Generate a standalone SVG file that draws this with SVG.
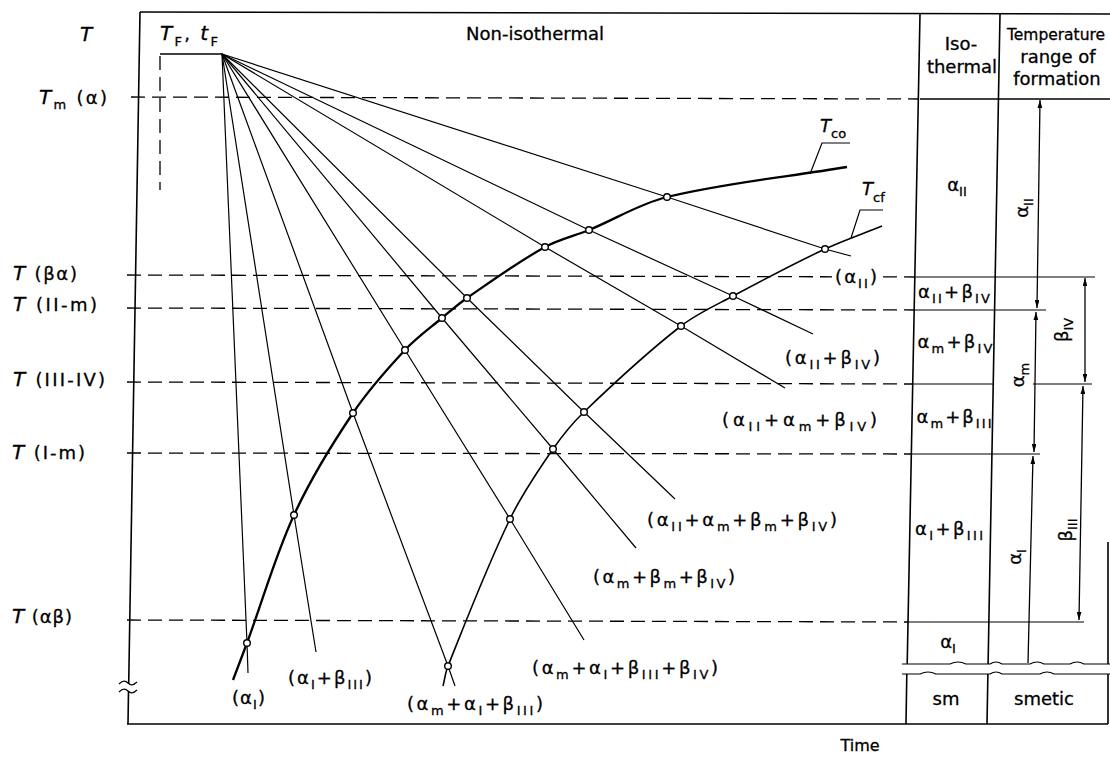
<svg xmlns="http://www.w3.org/2000/svg" width="1110" height="758" viewBox="0 0 1110 758">
<style>
.fr{stroke:#000;stroke-width:1.6;fill:none}
.ln{stroke:#000;stroke-width:1.2;fill:none}
.ds{stroke:#000;stroke-width:1.3;stroke-dasharray:14 7;fill:none}
.co{stroke:#000;stroke-width:2.3;fill:none}
.cf{stroke:#000;stroke-width:1.6;fill:none}
.pt{fill:#fff;stroke:#000;stroke-width:1.4}
.ar{stroke:#000;stroke-width:1.3;fill:none}
text{font-family:"DejaVu Sans","Liberation Sans",sans-serif;font-size:18px;fill:#000;stroke:#000;stroke-width:0.3}
.it{font-style:italic}
.s{font-size:13px}
.m{text-anchor:middle}
.big{font-size:20px}
.hd{font-size:15.5px}
.tm{font-size:16px}
</style>
<defs>
<marker id="ah" viewBox="0 0 10 6" refX="10" refY="3" markerWidth="8" markerHeight="4.8" orient="auto-start-reverse" markerUnits="userSpaceOnUse"><path d="M0,0L10,3L0,6z" fill="#000"/></marker>
</defs>
<rect width="1110" height="758" fill="#fff"/>

<g id="frame">
<path class="fr" d="M140,12 L1110,14"/>
<path class="fr" d="M140,12 L128.7,684"/>
<path class="fr" d="M128.5,691 L128,724"/>
<path class="fr" d="M127,724 L1108,724"/>
<path class="ln" d="M119,684 Q124,679 128,683 Q132,687 137,682"/>
<path class="ln" d="M119,692 Q124,687 128,691 Q132,695 137,690"/>
</g>

<g id="table">
<path class="fr" d="M920,14 L907.2,664 M906.8,674 L906,724"/>
<path class="fr" d="M1000,14 L988.1,664 M987.9,674 L987,724"/>
<path class="fr" d="M1108,542 L1108,664 M1108,674 L1108,724"/>
<path class="fr" d="M920,99 L1110,99"/>
<path class="ln" d="M915,277 L1095,277 M914,310 L1046,310 M913,384 L993,384 M1033,384 L1092,384 M911,454 L1040,454 M908,622 L1084,622"/>
<path class="ln" d="M902,664 L950,664 Q958,660 966,664 L990,664 Q996,660 1002,664 L1030,664 Q1037,660 1044,664 L1070,664 Q1077,660 1084,664 L1110,664"/>
<path class="ln" d="M902,674 L920,674 Q928,670 936,674 L990,674 Q996,670 1002,674 L1040,674 Q1047,670 1054,674 L1110,674"/>
<path class="ar" d="M1040,100 L1037,308" marker-start="url(#ah)" marker-end="url(#ah)"/>
<path class="ar" d="M1036,312 L1034,452" marker-start="url(#ah)" marker-end="url(#ah)"/>
<path class="ar" d="M1033,456 L1028,663" marker-start="url(#ah)"/>
<path class="ar" d="M1085,278 L1085,382" marker-start="url(#ah)" marker-end="url(#ah)"/>
<path class="ar" d="M1083,386 L1079,620" marker-start="url(#ah)" marker-end="url(#ah)"/>
</g>

<g id="levels">
<path class="ds" d="M131,97 L918,99"/>
<path class="ds" d="M127,275 L915,277"/>
<path class="ds" d="M127,308 L914,310"/>
<path class="ds" d="M127,382 L913,384"/>
<path class="ds" d="M127,453 L911,454"/>
<path class="ds" d="M127,620 L908,622"/>
<path class="ds" d="M160,56 L160,190"/>
</g>

<g id="connectors">
<path class="fr" d="M160,54 L222,54"/>
<path class="ln" d="M222,54 L247,643 L248,673"/>
<path class="ln" d="M222,54 L294,515 L316,652"/>
<path class="ln" d="M222,54 L353,413 L448,666 L455,686"/>
<path class="ln" d="M222,54 L405,350 L510,519 L584,640"/>
<path class="ln" d="M222,54 L442,318 L553,449 L636,548"/>
<path class="ln" d="M222,54 L467,298 L584,412 L675,499"/>
<path class="ln" d="M222,54 L545,247 L681,326 L785,388"/>
<path class="ln" d="M222,54 L589,230 L733,296 L813,334"/>
<path class="ln" d="M222,54 L667,197 L825,249 L851,256"/>
<path id="Tco" class="co" d="M233,680 C237.7,667.7 242.4,655.4 247,643 C262.8,600.3 275,556.3 294,515 C310.4,479.3 331.1,445.6 353,413 C368.2,390.4 386.4,369.9 405,350 C416.1,338.1 429.5,328.5 442,318 C450.2,311.1 458.2,304.1 467,298 C492.6,280.3 517.8,262.1 545,247 C558.7,239.4 574.5,236 589,230 C615.1,219.3 639.6,203.7 667,197 C726,182.6 787,177 847,167"/>
<path id="Tcf" class="cf" d="M443,686 C444.7,679.3 445.4,672.4 448,666 C467.8,616.6 486.8,566.9 510,519 C521.9,494.3 537.4,471.5 553,449 C562.2,435.8 572.4,423.2 584,412 C615.1,382.1 646.9,352.5 681,326 C696.8,313.7 715.4,305.4 733,296 C763.3,279.8 793.9,263.6 825,249 C843.6,240.3 863,233.7 882,226"/>
<path class="ln" d="M810,174 L822,143 L850,143"/>
<path class="ln" d="M851,238 L860,210 L883,210"/>
</g>

<g id="points">
<circle class="pt" cx="247" cy="643" r="3.3"/>
<circle class="pt" cx="294" cy="515" r="3.3"/>
<circle class="pt" cx="353" cy="413" r="3.3"/>
<circle class="pt" cx="405" cy="350" r="3.3"/>
<circle class="pt" cx="442" cy="318" r="3.3"/>
<circle class="pt" cx="467" cy="298" r="3.3"/>
<circle class="pt" cx="545" cy="247" r="3.3"/>
<circle class="pt" cx="589" cy="230" r="3.3"/>
<circle class="pt" cx="667" cy="197" r="3.3"/>
<circle class="pt" cx="448" cy="666" r="3.3"/>
<circle class="pt" cx="510" cy="519" r="3.3"/>
<circle class="pt" cx="553" cy="449" r="3.3"/>
<circle class="pt" cx="584" cy="412" r="3.3"/>
<circle class="pt" cx="681" cy="326" r="3.3"/>
<circle class="pt" cx="733" cy="296" r="3.3"/>
<circle class="pt" cx="825" cy="249" r="3.3"/>
</g>

<g id="axis-labels">
<text class="it big" x="80" y="41">T</text>
<text x="160" y="40" textLength="58"><tspan class="it big">T</tspan><tspan class="s" dy="6">F</tspan><tspan dy="-6">, </tspan><tspan class="it big">t</tspan><tspan class="s" dy="6">F</tspan></text>
<text x="39" y="104" textLength="68"><tspan class="it big">T</tspan><tspan class="s" dy="5">m</tspan><tspan dy="-5"> (α)</tspan></text>
<text x="13" y="280" textLength="64"><tspan class="it big">T</tspan> (βα)</text>
<text x="13" y="311" textLength="84"><tspan class="it big">T</tspan> (II-m)</text>
<text x="13" y="386" textLength="92"><tspan class="it big">T</tspan> (III-IV)</text>
<text x="12" y="459" textLength="73"><tspan class="it big">T</tspan> (I-m)</text>
<text x="12" y="623" textLength="60"><tspan class="it big">T</tspan> (αβ)</text>
<text class="m" x="535" y="40">Non-isothermal</text>
<text class="m tm" x="860" y="751">Time</text>
<text x="820" y="132"><tspan class="it">T</tspan><tspan class="s" dy="6">co</tspan></text>
<text x="862" y="195"><tspan class="it">T</tspan><tspan class="s" dy="7">cf</tspan></text>
</g>

<g id="curve-labels">
<text x="232" y="704" textLength="33">(α<tspan class="s" dy="5">I</tspan><tspan dy="-5">)</tspan></text>
<text x="288" y="684" textLength="84">(α<tspan class="s" dy="5">I</tspan><tspan dy="-5">+β</tspan><tspan class="s" dy="5">III</tspan><tspan dy="-5">)</tspan></text>
<text x="407" y="710" textLength="136">(α<tspan class="s" dy="5">m</tspan><tspan dy="-5">+α</tspan><tspan class="s" dy="5">I</tspan><tspan dy="-5">+β</tspan><tspan class="s" dy="5">III</tspan><tspan dy="-5">)</tspan></text>
<text x="532" y="674" textLength="186">(α<tspan class="s" dy="5">m</tspan><tspan dy="-5">+α</tspan><tspan class="s" dy="5">I</tspan><tspan dy="-5">+β</tspan><tspan class="s" dy="5">III</tspan><tspan dy="-5">+β</tspan><tspan class="s" dy="5">IV</tspan><tspan dy="-5">)</tspan></text>
<text x="593" y="583" textLength="142">(α<tspan class="s" dy="5">m</tspan><tspan dy="-5">+β</tspan><tspan class="s" dy="5">m</tspan><tspan dy="-5">+β</tspan><tspan class="s" dy="5">IV</tspan><tspan dy="-5">)</tspan></text>
<text x="647" y="526" textLength="190">(α<tspan class="s" dy="5">II</tspan><tspan dy="-5">+α</tspan><tspan class="s" dy="5">m</tspan><tspan dy="-5">+β</tspan><tspan class="s" dy="5">m</tspan><tspan dy="-5">+β</tspan><tspan class="s" dy="5">IV</tspan><tspan dy="-5">)</tspan></text>
<text x="722" y="426" textLength="155">(α<tspan class="s" dy="5">II</tspan><tspan dy="-5">+α</tspan><tspan class="s" dy="5">m</tspan><tspan dy="-5">+β</tspan><tspan class="s" dy="5">IV</tspan><tspan dy="-5">)</tspan></text>
<text x="785" y="364" textLength="95">(α<tspan class="s" dy="5">II</tspan><tspan dy="-5">+β</tspan><tspan class="s" dy="5">IV</tspan><tspan dy="-5">)</tspan></text>
<rect x="832" y="268" width="48" height="20" fill="#fff"/>
<text x="835" y="283" textLength="42">(α<tspan class="s" dy="5">II</tspan><tspan dy="-5">)</tspan></text>
</g>

<g id="table-labels">
<text class="m" x="961" y="50">Iso-</text>
<text class="m" x="962" y="73">thermal</text>
<text class="m hd" x="1056" y="40">Temperature</text>
<text class="m" x="1058" y="63">range of</text>
<text class="m" x="1057" y="85">formation</text>
<text class="m" x="957" y="191">α<tspan class="s" dy="5">II</tspan></text>
<text class="m" x="954" y="298" textLength="72">α<tspan class="s" dy="5">II</tspan><tspan dy="-5">+β</tspan><tspan class="s" dy="5">IV</tspan></text>
<text class="m" x="955" y="348" textLength="75">α<tspan class="s" dy="5">m</tspan><tspan dy="-5">+β</tspan><tspan class="s" dy="5">IV</tspan></text>
<text class="m" x="954" y="423" textLength="75">α<tspan class="s" dy="5">m</tspan><tspan dy="-5">+β</tspan><tspan class="s" dy="5">III</tspan></text>
<text class="m" x="949" y="535" textLength="68">α<tspan class="s" dy="5">I</tspan><tspan dy="-5">+β</tspan><tspan class="s" dy="5">III</tspan></text>
<text class="m" x="948" y="648">α<tspan class="s" dy="5">I</tspan></text>
<text class="m" x="946" y="705">sm</text>
<text class="m" x="1044" y="705">smetic</text>
<text class="m" transform="translate(1028,208) rotate(-90)">α<tspan class="s" dy="5">II</tspan></text>
<text class="m" transform="translate(1024,375) rotate(-90)">α<tspan class="s" dy="5">m</tspan></text>
<text class="m" transform="translate(1068,330) rotate(-90)">β<tspan class="s" dy="5">IV</tspan></text>
<text class="m" transform="translate(1072,530) rotate(-90)">β<tspan class="s" dy="5">III</tspan></text>
<text class="m" transform="translate(1021,557) rotate(-90)">α<tspan class="s" dy="5">I</tspan></text>
</g>
</svg>
